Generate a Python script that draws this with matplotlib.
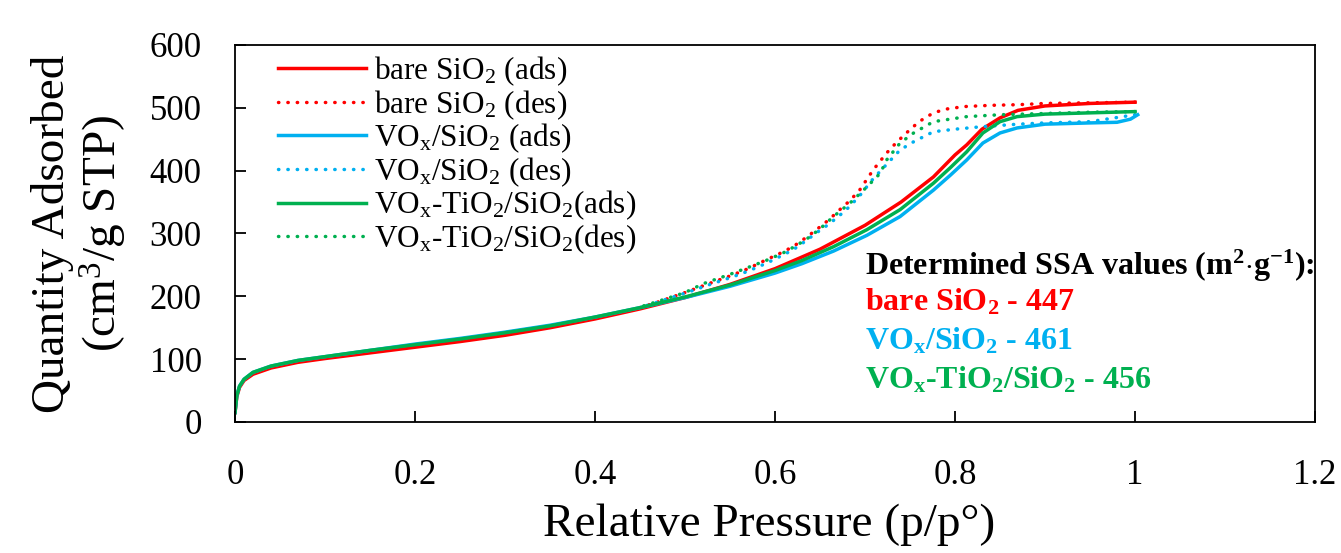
import matplotlib
matplotlib.use("Agg")
import matplotlib.pyplot as plt

plt.rcParams['font.family'] = ['Liberation Serif', 'DejaVu Serif']
plt.rcParams['mathtext.fontset'] = 'custom'
plt.rcParams['mathtext.rm'] = 'Liberation Serif'
plt.rcParams['mathtext.it'] = 'Liberation Serif'
plt.rcParams['mathtext.bf'] = 'Liberation Serif:bold'

# --- datos ---
sio2_ads_x = [0, 0.002, 0.005, 0.01, 0.02, 0.04, 0.07, 0.1, 0.15, 0.2, 0.25, 0.3, 0.35, 0.4,
              0.45, 0.5, 0.55, 0.6, 0.65, 0.7, 0.74, 0.776, 0.8, 0.813, 0.83, 0.85, 0.87, 0.9,
              0.95, 1.0]
sio2_ads_y = [15, 40, 55, 66, 76, 86, 95, 101, 110, 119, 128, 138, 150, 164,
              180, 198, 219, 244, 275, 313, 350, 390, 425, 441, 466, 484, 496, 503,
              507, 509]
sio2_des_x = [1.0, 0.95, 0.9, 0.87, 0.84, 0.81, 0.79, 0.776, 0.76, 0.746, 0.735, 0.724, 0.709,
              0.694, 0.683, 0.672, 0.66, 0.646, 0.633, 0.62, 0.605, 0.59, 0.57, 0.553, 0.53,
              0.5, 0.47, 0.45]
sio2_des_y = [509, 508, 507, 505, 504, 502, 498, 492, 478, 460, 445, 428, 401,
              369, 352, 338, 322, 306, 292, 279, 268, 258, 244, 234, 222,
              206, 191, 182]

vox_ads_x = [0, 0.002, 0.005, 0.01, 0.02, 0.04, 0.07, 0.1, 0.15, 0.2, 0.25, 0.3, 0.35, 0.4,
             0.45, 0.5, 0.55, 0.6, 0.63, 0.665, 0.702, 0.739, 0.776, 0.795, 0.813, 0.831,
             0.85, 0.869, 0.9, 0.95, 0.98, 0.995, 1.003]
vox_ads_y = [15, 42, 57, 68, 79, 89, 98, 104, 114, 124, 133, 143, 154, 167,
             182, 198, 216, 237, 252, 272, 297, 327, 369, 393, 417, 444,
             460, 468, 474, 476, 477, 482, 489]
vox_des_x = [1.0, 0.95, 0.9, 0.87, 0.83, 0.8, 0.776, 0.754, 0.739, 0.724, 0.709, 0.694, 0.683,
             0.672, 0.66, 0.646, 0.633, 0.62, 0.605, 0.591, 0.57, 0.553, 0.53, 0.5, 0.47, 0.45]
vox_des_y = [489, 478, 476, 474, 470, 466, 462, 446, 433, 410, 387, 360, 343,
             329, 315, 301, 287, 274, 263, 253, 240, 231, 220, 205, 191, 182]

voxti_ads_x = [0, 0.002, 0.005, 0.01, 0.02, 0.04, 0.07, 0.1, 0.15, 0.2, 0.25, 0.3, 0.35, 0.4,
               0.45, 0.5, 0.55, 0.6, 0.63, 0.665, 0.702, 0.739, 0.776, 0.795, 0.813, 0.831,
               0.85, 0.869, 0.9, 0.95, 1.0]
voxti_ads_y = [15, 42, 57, 68, 79, 89, 98, 104, 114, 123, 132, 142, 153, 167,
               182, 199, 218, 241, 257, 279, 306, 338, 380, 405, 430, 460,
               478, 486, 490, 492, 494]
voxti_des_x = [1.0, 0.95, 0.9, 0.85, 0.813, 0.776, 0.754, 0.739, 0.724, 0.717, 0.702, 0.683,
               0.665, 0.652, 0.639, 0.624, 0.609, 0.59, 0.572, 0.55, 0.52, 0.5, 0.47, 0.45]
voxti_des_y = [494, 493, 491, 489, 486, 478, 460, 444, 417, 396, 374, 348,
               327, 310, 295, 281, 269, 257, 247, 235, 220, 206, 192, 183]

x_ticks = [0, 0.2, 0.4, 0.6, 0.8, 1.0, 1.2]
x_tick_labels = ["0", "0.2", "0.4", "0.6", "0.8", "1", "1.2"]
y_ticks = [0, 100, 200, 300, 400, 500, 600]

rojo = "#FF0000"
azul = "#00B0F0"
verde = "#00B050"
punteado = (0, (0.1, 2.6))

fig = plt.figure(figsize=(13.41, 5.53), dpi=100)
ax = fig.add_axes([235 / 1341, 1 - 422 / 553, 1080 / 1341, 377 / 553])

ax.plot(sio2_ads_x, sio2_ads_y, color=rojo, lw=2.5, label=r"bare SiO$_2$ (ads)")
ax.plot(sio2_des_x, sio2_des_y, color=rojo, lw=2.5, ls=punteado, dash_capstyle="round",
        label=r"bare SiO$_2$ (des)")
ax.plot(vox_ads_x, vox_ads_y, color=azul, lw=2.5, label=r"VO$_\mathrm{x}$/SiO$_2$ (ads)")
ax.plot(vox_des_x, vox_des_y, color=azul, lw=2.5, ls=punteado, dash_capstyle="round",
        label=r"VO$_\mathrm{x}$/SiO$_2$ (des)")
ax.plot(voxti_ads_x, voxti_ads_y, color=verde, lw=2.5,
        label=r"VO$_\mathrm{x}$-TiO$_2$/SiO$_2$(ads)")
ax.plot(voxti_des_x, voxti_des_y, color=verde, lw=2.5, ls=punteado, dash_capstyle="round",
        label=r"VO$_\mathrm{x}$-TiO$_2$/SiO$_2$(des)")

ax.set_xlim(0, 1.2)
ax.set_ylim(0, 600)
ax.set_xticks(x_ticks)
ax.set_xticklabels(x_tick_labels)
ax.set_yticks(y_ticks)
ax.tick_params(direction="in", length=8, width=1.3, labelsize=25, top=False, right=False)
ax.tick_params(axis="y", pad=24)
ax.tick_params(axis="x", pad=27)
for s in ax.spines.values():
    s.set_linewidth(1.3)

ax.set_xlabel("Relative Pressure (p/p°)", fontsize=34)
ax.xaxis.set_label_coords(0.495, -0.215)
ax.set_ylabel("Quantity Adsorbed\n(cm$^3$/g STP)", fontsize=34, linespacing=1.1)
ax.yaxis.set_label_coords(-0.098, 0.5)

ax.legend(loc="upper left", bbox_to_anchor=(0.04, 0.975), frameon=False, fontsize=22.5,
          handlelength=2.8, handletextpad=0.25, labelspacing=0.0, borderpad=0,
          borderaxespad=0)

# --- valores SSA ---
ax.text(0.583, 0.390, r"Determined SSA values (m$^\mathbf{2}$$\mathbf{\cdot}$g$^\mathbf{-1}$):",
        transform=ax.transAxes, fontsize=23, fontweight="bold", color="black", va="baseline")
ax.text(0.583, 0.295, r"bare SiO$_\mathbf{2}$ - 447", transform=ax.transAxes, fontsize=23,
        fontweight="bold", color=rojo, va="baseline")
ax.text(0.583, 0.192, r"VO$_\mathbf{x}$/SiO$_\mathbf{2}$ - 461", transform=ax.transAxes,
        fontsize=23, fontweight="bold", color=azul, va="baseline")
ax.text(0.583, 0.090, r"VO$_\mathbf{x}$-TiO$_\mathbf{2}$/SiO$_\mathbf{2}$ - 456",
        transform=ax.transAxes, fontsize=23, fontweight="bold", color=verde, va="baseline")

plt.savefig("out.png", dpi=100)
